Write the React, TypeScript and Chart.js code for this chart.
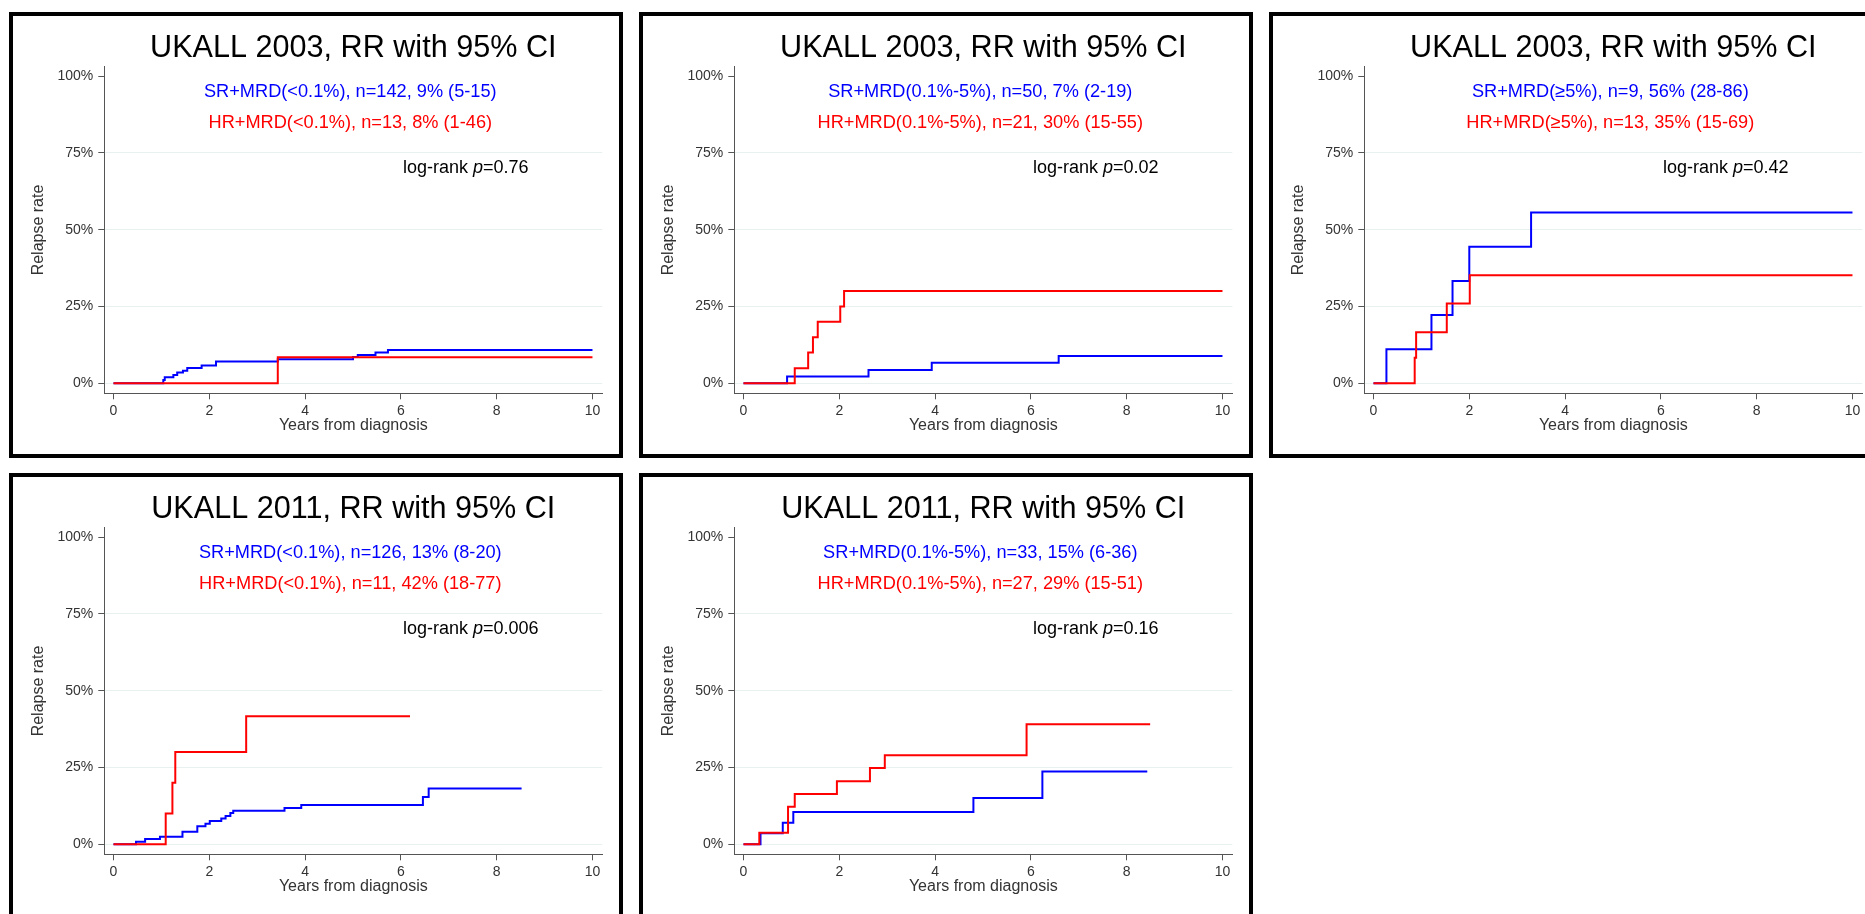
import React, { useEffect, useRef } from "react";
import { Chart, registerables } from "chart.js";

Chart.register(...registerables);

// ---------- shared axis data ----------
const xTickValues = [0, 2, 4, 6, 8, 10];
const yTickValues = [0, 25, 50, 75, 100];
const xAxisTitle = "Years from diagnosis";
const yAxisTitle = "Relapse rate";

// ---------- panel 1 ----------
const p1Title = "UKALL 2003, RR with 95% CI";
const p1SrLabel = "SR+MRD(<0.1%), n=142, 9% (5-15)";
const p1HrLabel = "HR+MRD(<0.1%), n=13, 8% (1-46)";
const p1PValue = "0.76";
const p1SrYears = [0, 1.04, 1.07, 1.25, 1.33, 1.45, 1.54, 1.84, 2.14, 3.43, 5.0, 5.1, 5.47, 5.73, 10];
const p1SrRates = [0, 1.1, 2.0, 2.7, 3.5, 4.1, 5.0, 5.8, 7.1, 7.8, 8.6, 9.2, 10.0, 10.8, 10.8];
const p1HrYears = [0, 3.43, 10];
const p1HrRates = [0, 8.5, 8.5];

// ---------- panel 2 ----------
const p2Title = "UKALL 2003, RR with 95% CI";
const p2SrLabel = "SR+MRD(0.1%-5%), n=50, 7% (2-19)";
const p2HrLabel = "HR+MRD(0.1%-5%), n=21, 30% (15-55)";
const p2PValue = "0.02";
const p2SrYears = [0, 0.91, 2.61, 3.93, 6.58, 10];
const p2SrRates = [0, 2.2, 4.3, 6.7, 8.9, 8.9];
const p2HrYears = [0, 1.07, 1.35, 1.45, 1.55, 2.02, 2.1, 10];
const p2HrRates = [0, 4.9, 10.0, 15.0, 20.0, 25.0, 30.0, 30.0];

// ---------- panel 3 ----------
const p3Title = "UKALL 2003, RR with 95% CI";
const p3SrLabel = "SR+MRD(≥5%), n=9, 56% (28-86)";
const p3HrLabel = "HR+MRD(≥5%), n=13, 35% (15-69)";
const p3PValue = "0.42";
const p3SrYears = [0, 0.27, 1.21, 1.65, 2.0, 3.29, 10];
const p3SrRates = [0, 11.1, 22.2, 33.3, 44.4, 55.6, 55.6];
const p3HrYears = [0, 0.86, 0.89, 1.53, 2.01, 10];
const p3HrRates = [0, 8.3, 16.6, 26.0, 35.2, 35.2];

// ---------- panel 4 ----------
const p4Title = "UKALL 2011, RR with 95% CI";
const p4SrLabel = "SR+MRD(<0.1%), n=126, 13% (8-20)";
const p4HrLabel = "HR+MRD(<0.1%), n=11, 42% (18-77)";
const p4PValue = "0.006";
const p4SrYears = [0, 0.47, 0.66, 0.97, 1.44, 1.75, 1.92, 2.01, 2.25, 2.34, 2.44, 2.5, 3.57, 3.92, 6.46, 6.58, 8.52];
const p4SrRates = [0, 0.8, 1.7, 2.5, 4.1, 5.9, 6.7, 7.6, 8.4, 9.2, 10.2, 10.95, 11.8, 12.8, 15.4, 18.2, 18.2];
const p4HrYears = [0, 1.09, 1.23, 1.29, 2.77, 6.19];
const p4HrRates = [0, 10.0, 20.0, 30.0, 41.7, 41.7];

// ---------- panel 5 ----------
const p5Title = "UKALL 2011, RR with 95% CI";
const p5SrLabel = "SR+MRD(0.1%-5%), n=33, 15% (6-36)";
const p5HrLabel = "HR+MRD(0.1%-5%), n=27, 29% (15-51)";
const p5PValue = "0.16";
const p5SrYears = [0, 0.355, 0.82, 1.04, 4.8, 6.24, 8.43];
const p5SrRates = [0, 3.6, 7.0, 10.5, 15.1, 23.7, 23.7];
const p5HrYears = [0, 0.33, 0.93, 1.07, 1.95, 2.64, 2.95, 5.91, 8.49];
const p5HrRates = [0, 3.8, 12.2, 16.4, 20.5, 24.8, 29.0, 39.1, 39.1];

// ---------- styling ----------
const FONT = '"Liberation Sans", Arial, Helvetica, sans-serif';
const BLUE = "#0000ff";
const RED = "#ff0000";
const AXIS = "#555555";
const TICK_TEXT = "#333333";
const GRID = "#e8f0f0";

const CANVAS_W = 606;
const CANVAS_H = 438;

type PanelDef = {
  title: string;
  srLabel: string;
  hrLabel: string;
  pValue: string;
  srYears: number[];
  srRates: number[];
  hrYears: number[];
  hrRates: number[];
  left: number;
  top: number;
};

const panels: PanelDef[] = [
  { title: p1Title, srLabel: p1SrLabel, hrLabel: p1HrLabel, pValue: p1PValue, srYears: p1SrYears, srRates: p1SrRates, hrYears: p1HrYears, hrRates: p1HrRates, left: 9, top: 12 },
  { title: p2Title, srLabel: p2SrLabel, hrLabel: p2HrLabel, pValue: p2PValue, srYears: p2SrYears, srRates: p2SrRates, hrYears: p2HrYears, hrRates: p2HrRates, left: 639, top: 12 },
  { title: p3Title, srLabel: p3SrLabel, hrLabel: p3HrLabel, pValue: p3PValue, srYears: p3SrYears, srRates: p3SrRates, hrYears: p3HrYears, hrRates: p3HrRates, left: 1269, top: 12 },
  { title: p4Title, srLabel: p4SrLabel, hrLabel: p4HrLabel, pValue: p4PValue, srYears: p4SrYears, srRates: p4SrRates, hrYears: p4HrYears, hrRates: p4HrRates, left: 9, top: 473 },
  { title: p5Title, srLabel: p5SrLabel, hrLabel: p5HrLabel, pValue: p5PValue, srYears: p5SrYears, srRates: p5SrRates, hrYears: p5HrYears, hrRates: p5HrRates, left: 639, top: 473 },
];

function toPoints(xs: number[], ys: number[]) {
  return xs.map((x, i) => ({ x, y: ys[i] }));
}

function PanelChart({ p }: { p: PanelDef }) {
  const ref = useRef<HTMLCanvasElement | null>(null);

  useEffect(() => {
    if (!ref.current) return;

    const textPlugin = {
      id: "panelText",
      afterDraw(chart: any) {
        const { ctx, chartArea } = chart;
        const cx = (chartArea.left + chartArea.right) / 2;
        ctx.save();
        ctx.textBaseline = "alphabetic";
        ctx.textAlign = "center";
        ctx.fillStyle = "#000000";
        ctx.font = `30.6px ${FONT}`;
        ctx.fillText(p.title, cx, chartArea.top - 10);

        ctx.font = `18.2px ${FONT}`;
        ctx.fillStyle = BLUE;
        ctx.fillText(p.srLabel, cx - 3, chartArea.top + 29.8);
        ctx.fillStyle = RED;
        ctx.fillText(p.hrLabel, cx - 3, chartArea.top + 61.3);

        ctx.font = `18px ${FONT}`;
        ctx.textAlign = "left";
        ctx.fillStyle = "#000000";
        let x = chartArea.left + 298.7;
        const y = chartArea.top + 106.3;
        const a = "log-rank ";
        ctx.fillText(a, x, y);
        x += ctx.measureText(a).width;
        ctx.font = `italic 18px ${FONT}`;
        ctx.fillText("p", x, y);
        x += ctx.measureText("p").width;
        ctx.font = `18px ${FONT}`;
        ctx.fillText("=" + p.pValue, x, y);
        ctx.restore();
      },
    };

    const chart = new Chart(ref.current, {
      type: "line",
      data: {
        datasets: [
          {
            label: "HR",
            data: toPoints(p.hrYears, p.hrRates),
            borderColor: RED,
            backgroundColor: RED,
            borderWidth: 2,
            stepped: "before",
            pointRadius: 0,
            fill: false,
            order: 0,
          },
          {
            label: "SR",
            data: toPoints(p.srYears, p.srRates),
            borderColor: BLUE,
            backgroundColor: BLUE,
            borderWidth: 2,
            stepped: "before",
            pointRadius: 0,
            fill: false,
            order: 1,
          },
        ],
      },
      options: {
        responsive: false,
        animation: false,
        devicePixelRatio: 1,
        parsing: false as any,
        layout: { padding: { left: 15.9, right: 16.7, top: 50.7, bottom: 18.4 } },
        plugins: {
          legend: { display: false },
          tooltip: { enabled: false },
          title: { display: false },
        },
        scales: {
          x: {
            type: "linear",
            min: -0.192,
            max: 10.205,
            afterBuildTicks: (s: any) => {
              s.ticks = xTickValues.map((v) => ({ value: v }));
            },
            afterFit: (s: any) => {
              s.height = 42.3;
            },
            grid: {
              drawOnChartArea: false,
              drawTicks: true,
              tickLength: 6,
              tickColor: AXIS,
              tickWidth: 1,
            },
            border: { display: true, color: AXIS, width: 1 },
            ticks: {
              color: TICK_TEXT,
              font: { family: FONT, size: 14 },
              padding: 3,
              maxRotation: 0,
              autoSkip: false,
              callback: (v: any) => String(v),
            },
            title: {
              display: true,
              text: xAxisTitle,
              color: TICK_TEXT,
              font: { family: FONT, size: 16 },
              padding: 0,
            },
          },
          y: {
            type: "linear",
            min: -3.25,
            max: 103.03,
            afterBuildTicks: (s: any) => {
              s.ticks = yTickValues.map((v) => ({ value: v }));
            },
            afterFit: (s: any) => {
              s.width = 75.4;
            },
            grid: {
              drawOnChartArea: true,
              drawTicks: true,
              tickLength: 6,
              tickColor: AXIS,
              tickWidth: 1,
              lineWidth: 1,
              color: (c: any) => (c.tick && c.tick.value === 100 ? "rgba(0,0,0,0)" : GRID),
            },
            border: { display: true, color: AXIS, width: 1 },
            ticks: {
              color: TICK_TEXT,
              font: { family: FONT, size: 14 },
              padding: 5,
              autoSkip: false,
              callback: (v: any) => `${v}%`,
            },
            title: {
              display: true,
              text: yAxisTitle,
              color: TICK_TEXT,
              font: { family: FONT, size: 16 },
              padding: 0,
            },
          },
        },
      } as any,
      plugins: [textPlugin],
    });

    return () => chart.destroy();
  }, [p]);

  return (
    <div
      style={{
        position: "absolute",
        left: p.left,
        top: p.top,
        width: CANVAS_W,
        height: CANVAS_H,
        border: "4px solid #000",
        background: "#fff",
      }}
    >
      <canvas ref={ref} width={CANVAS_W} height={CANVAS_H} style={{ display: "block" }} />
    </div>
  );
}

export default function App() {
  return (
    <div
      style={{
        position: "absolute",
        left: 0,
        top: 0,
        width: 1865,
        height: 914,
        overflow: "hidden",
        background: "#fff",
      }}
    >
      {panels.map((p, i) => (
        <PanelChart key={i} p={p} />
      ))}
    </div>
  );
}
